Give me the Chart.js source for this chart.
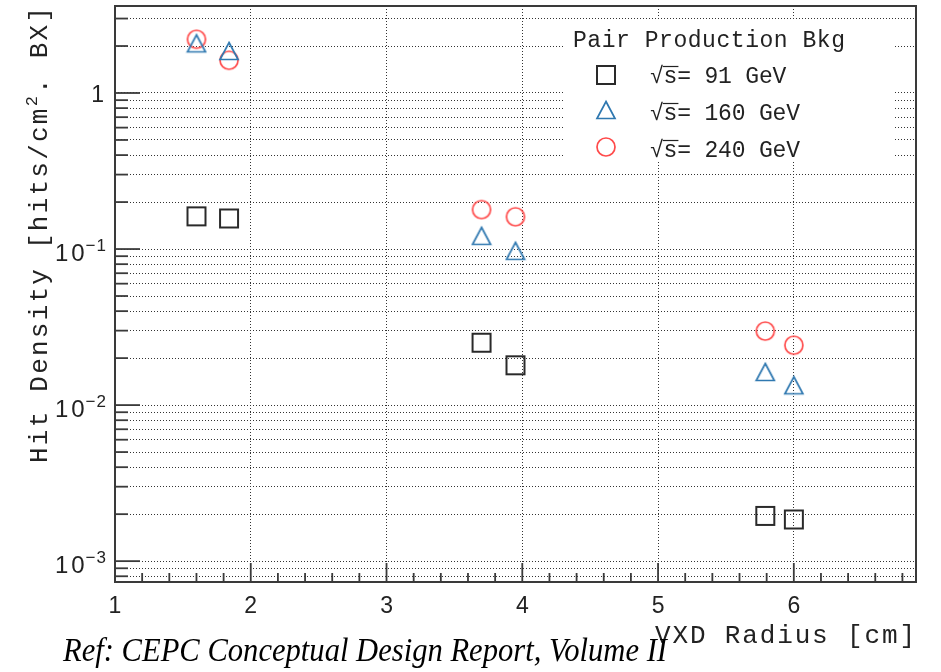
<!DOCTYPE html>
<html>
<head>
<meta charset="utf-8">
<script src="https://cdn.jsdelivr.net/npm/chart.js@4.4.0/dist/chart.umd.min.js"></script>
<style>
html,body{margin:0;padding:0;background:#fff;}
#wrap{width:941px;height:672px;position:relative;}
</style>
</head>
<body>
<div id="wrap"><canvas id="c" width="941" height="672"></canvas></div>
<script>
// ---------------- data ----------------
const radiusCm      = [1.60, 1.84, 3.70, 3.95, 5.79, 6.00];
const density91GeV  = [0.162, 0.157, 0.0251, 0.0180, 0.00195, 0.00185];
const density160GeV = [2.08, 1.86, 0.1215, 0.0974, 0.0163, 0.0134];
const density240GeV = [2.21, 1.62, 0.179, 0.161, 0.0298, 0.0242];
const seriesEnergies = ['91', '160', '240'];
const xTickLabels = [1, 2, 3, 4, 5, 6];
const yDecadeExponents = [0, -1, -2, -3];
const xRange = [1, 6.9];
const yRange = [7.35e-4, 3.61];
const xAxisTitle = 'VXD Radius [cm]';
const yAxisTitleParts = ['Hit Density [hits/cm', '2', '. BX]'];
const legendTitle = 'Pair Production Bkg';
const captionText = 'Ref: CEPC Conceptual Design Report, Volume II';

// ---------------- styles ----------------
const COL_SQ = '#2a2a2a', COL_TRI = '#2f78b0', COL_CIR = '#ff4a4a';
const TEXT_COL = '#222222';
const MONO = '"Liberation Mono", "DejaVu Sans Mono", monospace';
const SANS = '"Liberation Sans", Arial, sans-serif';

function makeMarker(kind, color, lw) {
  const c = document.createElement('canvas');
  c.width = 22; c.height = 22;
  const g = c.getContext('2d');
  g.strokeStyle = color; g.lineWidth = lw;
  g.beginPath();
  if (kind === 'square') g.rect(2, 2, 18, 18);
  else if (kind === 'triangle') { g.moveTo(11, 2.5); g.lineTo(20, 19.5); g.lineTo(2, 19.5); g.closePath(); }
  else g.arc(11, 11, 9, 0, Math.PI * 2);
  g.stroke();
  return c;
}
const markerSquare = makeMarker('square', COL_SQ, 2);
const markerTriangle = makeMarker('triangle', COL_TRI, 1.7);
const markerCircle = makeMarker('circle', COL_CIR, 1.7);

function buildLogTicks(min, max) {
  const t = [];
  for (let e = Math.floor(Math.log10(min)); e <= Math.ceil(Math.log10(max)); e++) {
    for (let m = 1; m <= 9; m++) {
      const v = m * Math.pow(10, e);
      if (v >= min * 1.0001 && v <= max / 1.0001) t.push({ value: v, major: m === 1 });
    }
  }
  return t;
}

function drawSpaced(ctx, text, x, y, ls) {
  ctx.letterSpacing = ls + 'px';
  ctx.textAlign = 'left';
  ctx.fillText(text, x, y);
  ctx.letterSpacing = '0px';
}
function naturalWidth(ctx, text) {
  ctx.letterSpacing = '0px';
  return ctx.measureText(text).width;
}
function fitSpacing(ctx, text, target) {
  const n = [...text].length;
  return (target - naturalWidth(ctx, text)) / Math.max(1, n - 1);
}

const toPoints = arr => radiusCm.map((x, i) => ({ x: x, y: arr[i] }));

const decorPlugin = {
  id: 'rootDecor',
  afterDatasetsDraw(chart) {
    const { ctx, chartArea: a, scales: { x, y } } = chart;
    ctx.save();
    // legend background (white, no border)
    ctx.fillStyle = '#ffffff';
    ctx.fillRect(563, 20, 330, 140);

    // frame
    ctx.strokeStyle = '#3a3a3a';
    ctx.lineWidth = 2;
    ctx.strokeRect(a.left, a.top, a.right - a.left, a.bottom - a.top);

    // y tick marks
    ctx.strokeStyle = '#3a3a3a';
    ctx.lineWidth = 1.8;
    y.ticks.forEach(t => {
      const py = y.getPixelForValue(t.value);
      const len = t.major ? 25 : 13;
      ctx.beginPath(); ctx.moveTo(a.left, py); ctx.lineTo(a.left + len, py); ctx.stroke();
    });
    // x tick marks (major on integers, minor every 0.2)
    for (let i = Math.ceil(xRange[0] * 5); i <= Math.floor(xRange[1] * 5); i++) {
      const v = i / 5;
      if (v <= xRange[0]) continue;
      const px = x.getPixelForValue(v);
      const len = (i % 5 === 0) ? 19 : 9;
      ctx.beginPath(); ctx.moveTo(px, a.bottom); ctx.lineTo(px, a.bottom - len); ctx.stroke();
    }

    ctx.fillStyle = TEXT_COL;
    ctx.textBaseline = 'alphabetic';
    // x tick labels
    ctx.font = '23px ' + SANS;
    xTickLabels.forEach(v => {
      const px = x.getPixelForValue(v);
      const w = naturalWidth(ctx, String(v));
      drawSpaced(ctx, String(v), px - w / 2, 613, 0);
    });
    // y tick labels
    yDecadeExponents.forEach(e => {
      const py = y.getPixelForValue(Math.pow(10, e));
      if (e === 0) {
        ctx.font = '23px ' + SANS;
        const w = naturalWidth(ctx, '1');
        drawSpaced(ctx, '1', 104 - w, py + 9, 0);
      } else {
        const sup = '\u2212' + String(-e);
        ctx.font = '17px ' + SANS;
        const ws = naturalWidth(ctx, sup) + 1;
        drawSpaced(ctx, sup, 106 - ws, py + 2, 1);
        ctx.font = '24px ' + SANS;
        const wb = naturalWidth(ctx, '10') + 3;
        drawSpaced(ctx, '10', 106 - ws - wb - 1, py + 12, 3);
      }
    });

    // x axis title (right aligned at frame end)
    ctx.font = '26px ' + MONO;
    const lsx = fitSpacing(ctx, xAxisTitle, 260);
    drawSpaced(ctx, xAxisTitle, 655, 643, lsx);

    // y axis title (rotated, reading upward)
    ctx.save();
    ctx.translate(47, 463);
    ctx.rotate(-Math.PI / 2);
    const [pa, pb, pc] = yAxisTitleParts;
    ctx.font = '26px ' + MONO; const wa = naturalWidth(ctx, pa); const wc = naturalWidth(ctx, pc);
    ctx.font = '17px ' + MONO; const wb = naturalWidth(ctx, pb);
    const nChars = [...pa].length + [...pb].length + [...pc].length;
    const lsy = (456 - wa - wb - wc) / (nChars - 1);
    let cx = 0;
    ctx.font = '26px ' + MONO; drawSpaced(ctx, pa, cx, 0, lsy); cx += wa + [...pa].length * lsy;
    ctx.font = '17px ' + MONO; drawSpaced(ctx, pb, cx, -10, lsy); cx += wb + lsy;
    ctx.font = '26px ' + MONO; drawSpaced(ctx, pc, cx, 0, lsy);
    ctx.restore();

    // legend
    ctx.font = '23px ' + MONO;
    drawSpaced(ctx, legendTitle, 573, 47, fitSpacing(ctx, legendTitle, 272));
    const entryTexts = seriesEnergies.map(e => '\u221As= ' + e + ' GeV');
    const lsl = fitSpacing(ctx, entryTexts[2], 150);
    const markers = [markerSquare, markerTriangle, markerCircle];
    const markerY = [75, 110, 147];
    const baseY = [83, 120, 157];
    entryTexts.forEach((txt, i) => {
      ctx.drawImage(markers[i], 606 - 11, markerY[i] - 11);
      ctx.fillStyle = TEXT_COL;
      drawSpaced(ctx, txt, 650, baseY[i], lsl);
      const wr = naturalWidth(ctx, '\u221A');
      const ws = naturalWidth(ctx, 's');
      ctx.strokeStyle = TEXT_COL; ctx.lineWidth = 1.2;
      ctx.beginPath();
      ctx.moveTo(650 + wr - 1, baseY[i] - 16.5);
      ctx.lineTo(650 + wr + lsl + ws + 1, baseY[i] - 16.5);
      ctx.stroke();
    });

    // caption (condensed Times italic)
    ctx.fillStyle = '#000';
    ctx.font = 'italic 34px "Liberation Serif", "Times New Roman", serif';
    const wcap = naturalWidth(ctx, captionText);
    ctx.save();
    ctx.translate(63, 661);
    ctx.scale(604 / wcap, 1);
    ctx.textAlign = 'left';
    ctx.fillText(captionText, 0, 0);
    ctx.restore();
    ctx.restore();
  }
};

new Chart(document.getElementById('c'), {
  type: 'scatter',
  data: {
    datasets: [
      { label: '\u221As= ' + seriesEnergies[0] + ' GeV', data: toPoints(density91GeV), pointStyle: markerSquare, pointRadius: 9, showLine: false },
      { label: '\u221As= ' + seriesEnergies[1] + ' GeV', data: toPoints(density160GeV), pointStyle: markerTriangle, pointRadius: 9, showLine: false },
      { label: '\u221As= ' + seriesEnergies[2] + ' GeV', data: toPoints(density240GeV), pointStyle: markerCircle, pointRadius: 9, showLine: false }
    ]
  },
  options: {
    responsive: false,
    devicePixelRatio: 1,
    animation: false,
    layout: { autoPadding: false, padding: { top: 6, right: 25, left: 0, bottom: 0 } },
    plugins: { legend: { display: false }, tooltip: { enabled: false } },
    scales: {
      x: {
        type: 'linear', min: xRange[0], max: xRange[1],
        afterBuildTicks: s => { s.ticks = xTickLabels.map(v => ({ value: v })); },
        afterFit: s => { s.height = 90; },
        ticks: { display: false },
        grid: { drawTicks: false, lineWidth: 1, color: c => (c.tick && c.tick.value === xRange[0]) ? 'rgba(0,0,0,0)' : '#333' },
        border: { display: false, dash: [1, 2] }
      },
      y: {
        type: 'logarithmic', min: yRange[0], max: yRange[1],
        afterBuildTicks: s => { s.ticks = buildLogTicks(yRange[0], yRange[1]); },
        afterFit: s => { s.width = 115; },
        ticks: { display: false },
        grid: { drawTicks: false, lineWidth: 1, color: '#333' },
        border: { display: false, dash: [1, 2] }
      }
    }
  },
  plugins: [decorPlugin]
});
</script>
</body>
</html>
